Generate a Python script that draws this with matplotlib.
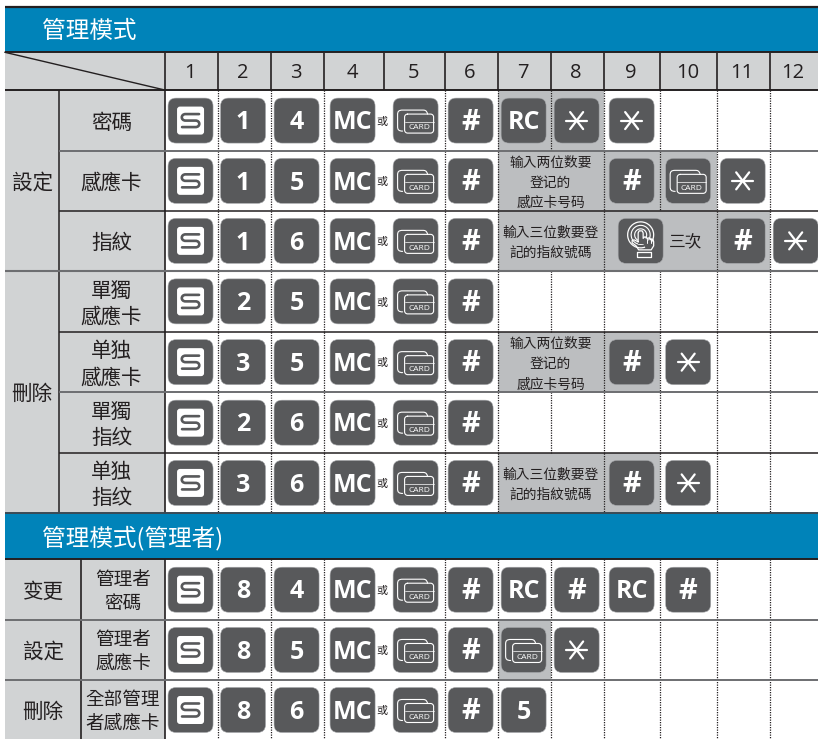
import matplotlib
matplotlib.use("Agg")
import matplotlib.pyplot as plt
from matplotlib.patches import FancyBboxPatch, Rectangle, PathPatch, Arc
from matplotlib.path import Path

CJK = ['Noto Sans CJK TC', 'DejaVu Sans']
LATIN = ['Open Sans', 'DejaVu Sans']

# table contents
col_labels = ['1', '2', '3', '4', '5', '6', '7', '8', '9', '10', '11', '12']
titles = ['管理模式', '管理模式(管理者)']

group_labels = ['設定', '刪除']
row_labels = ['密碼', '感應卡', '指紋', '單獨\n感應卡', '单独\n感應卡', '單獨\n指纹', '单独\n指纹']
keys = [
    ['S', '1', '4', 'MC', 'CARD', '#', 'RC', '*', '*', None, None, None],
    ['S', '1', '5', 'MC', 'CARD', '#', None, None, '#', 'CARD', '*', None],
    ['S', '1', '6', 'MC', 'CARD', '#', None, None, None, None, '#', '*'],
    ['S', '2', '5', 'MC', 'CARD', '#', None, None, None, None, None, None],
    ['S', '3', '5', 'MC', 'CARD', '#', None, None, '#', '*', None, None],
    ['S', '2', '6', 'MC', 'CARD', '#', None, None, None, None, None, None],
    ['S', '3', '6', 'MC', 'CARD', '#', None, None, '#', '*', None, None],
]
shaded = [(6, 7), (6, 9), (6, 10), None, (6, 8), None, (6, 8)]
notes = [None, '输入两位数要\n登记的\n感应卡号码', '輸入三位數要登\n記的指紋號碼', None,
         '输入两位数要\n登记的\n感应卡号码', None, '輸入三位數要登\n記的指紋號碼']

admin_groups = ['变更', '設定', '刪除']
admin_labels = ['管理者\n密碼', '管理者\n感應卡', '全部管理\n者感應卡']
admin_keys = [
    ['S', '8', '4', 'MC', 'CARD', '#', 'RC', '#', 'RC', '#', None, None],
    ['S', '8', '5', 'MC', 'CARD', '#', 'CARD', '*', None, None, None, None],
    ['S', '8', '6', 'MC', 'CARD', '#', '5', None, None, None, None, None],
]
admin_shaded = [None, (6, 6), None]

or_text = '或'
times_text = '三次'

# colours
BLUE = '#0083b9'
DARK = '#58595b'
LABEL_BG = '#d1d3d4'
SHADE = '#bcbec0'
INK = '#231f20'
RULE = '#6d6e71'

# page layout, pixels
col_edges = [165, 217.5, 270.5, 323.5, 384, 444.5, 497.5, 550.5, 603.5, 660, 716.5, 769.5, 818]
key_x = [190.5, 243, 296.5, 352.5, 415.5, 470.5, 523.5, 576.5, 631.5, 688, 742.5, 795.5]
row_edges = [90.5, 151, 211, 271, 332, 392.5, 453, 513]
admin_edges = [559.5, 620, 680, 740]
LEFT, RIGHT = 5, 818
KEY = 45
CJK_DY = 2

fig = plt.figure(figsize=(8.182, 7.392), dpi=100)
ax = fig.add_axes([0, 0, 1, 1])
ax.set_xlim(0, 818)
ax.set_ylim(739, 0)
ax.axis('off')


def box(x0, y0, x1, y1, color, z=1):
    ax.add_patch(Rectangle((x0, y0), x1 - x0, y1 - y0, fc=color, ec='none', zorder=z))


def hline(y, x0=LEFT, x1=RIGHT, color=INK, lw=1.2, z=4):
    ax.plot([x0, x1], [y, y], color=color, lw=lw, solid_capstyle='butt', zorder=z)


def vline(x, y0, y1, color=INK, lw=1.2, ls='-', z=3):
    ax.plot([x, x], [y0, y1], color=color, lw=lw, ls=ls, solid_capstyle='butt', zorder=z)


def lines_text(x, y, s, size, gap, color=INK):
    parts = s.split('\n')
    for i, part in enumerate(parts):
        yy = y + CJK_DY + (i - (len(parts) - 1) / 2) * gap
        ax.text(x, yy, part, ha='center', va='center', fontsize=size, color=color, family=CJK,
                weight='medium', zorder=6)


def stroke(verts, codes=None, lw=1.0, color='white', z=7):
    ax.add_patch(PathPatch(Path(verts, codes), fc='none', ec=color, lw=lw, capstyle='round',
                           joinstyle='round', zorder=z))


def round_outline(x0, y0, x1, y1, r):
    k = r * 0.45
    verts = [(x0 + r, y0), (x1 - r, y0), (x1 - k, y0), (x1, y0 + k), (x1, y0 + r),
             (x1, y1 - r), (x1, y1 - k), (x1 - k, y1), (x1 - r, y1),
             (x0 + r, y1), (x0 + k, y1), (x0, y1 - k), (x0, y1 - r),
             (x0, y0 + r), (x0, y0 + k), (x0 + k, y0), (x0 + r, y0)]
    codes = [Path.MOVETO, Path.LINETO, Path.CURVE4, Path.CURVE4, Path.CURVE4,
             Path.LINETO, Path.CURVE4, Path.CURVE4, Path.CURVE4,
             Path.LINETO, Path.CURVE4, Path.CURVE4, Path.CURVE4,
             Path.LINETO, Path.CURVE4, Path.CURVE4, Path.CURVE4]
    return verts, codes


def draw_s(cx, cy):
    ax.add_patch(FancyBboxPatch((cx - 13.5, cy - 14), 27, 28, boxstyle='round,pad=0,rounding_size=3',
                                fc='white', ec='none', zorder=6))
    verts = [(cx + 8.5, cy - 6.5), (cx - 5, cy - 6.5), (cx - 10, cy - 6.5), (cx - 10, cy), (cx - 5, cy),
             (cx + 5, cy), (cx + 10, cy), (cx + 10, cy + 6.5), (cx + 5, cy + 6.5), (cx - 8.5, cy + 6.5)]
    codes = [Path.MOVETO, Path.LINETO, Path.CURVE4, Path.CURVE4, Path.CURVE4,
             Path.LINETO, Path.CURVE4, Path.CURVE4, Path.CURVE4, Path.LINETO]
    stroke(verts, codes, lw=1.9, color=DARK)


def draw_star(cx, cy):
    stroke([(cx - 10.5, cy), (cx + 10.5, cy)], lw=1.6)
    stroke([(cx - 6.5, cy - 8.5), (cx + 6.5, cy + 8.5)], lw=1.6)
    stroke([(cx + 6.5, cy - 8.5), (cx - 6.5, cy + 8.5)], lw=1.6)


def draw_card(cx, cy):
    # card behind
    verts = [(cx + 12, cy - 6.5), (cx + 11, cy - 10.5), (cx + 9, cy - 10.5), (cx + 7, cy - 10.5),
             (cx - 13, cy - 10.5), (cx - 17, cy - 10.5), (cx - 18, cy - 9), (cx - 18, cy - 6),
             (cx - 18, cy + 6), (cx - 18, cy + 9), (cx - 17, cy + 10.5), (cx - 13, cy + 10.5)]
    codes = [Path.MOVETO, Path.CURVE4, Path.CURVE4, Path.CURVE4,
             Path.LINETO, Path.CURVE4, Path.CURVE4, Path.CURVE4,
             Path.LINETO, Path.CURVE4, Path.CURVE4, Path.CURVE4]
    stroke(verts, codes, lw=0.8)
    # card in front
    v, c = round_outline(cx - 11, cy - 6.5, cx + 18, cy + 12.5, 3)
    stroke(v, c, lw=0.8)
    stroke([(cx - 11, cy + 1), (cx + 18, cy + 1)], lw=0.5)
    ax.text(cx + 3.5, cy + 7.2, 'CARD', ha='center', va='center', fontsize=6, color='white',
            family=LATIN, zorder=7)


def draw_finger(cx, cy):
    ox, oy = cx, cy - 6
    for r, lw in [(13, 0.9), (9.5, 0.8), (6, 0.8)]:
        ax.add_patch(Arc((ox, oy), 2 * r, 2 * r, theta1=70, theta2=395, ec='white', lw=lw, zorder=7))
    ax.add_patch(Rectangle((cx - 3, cy - 9), 7, 12, fc=DARK, ec='none', zorder=7.5))
    hand = [(cx - 2.5, cy + 1), (cx - 2.5, cy - 8), (cx - 1.5, cy - 10), (cx + 1.5, cy - 10), (cx + 2.5, cy - 8),
            (cx + 2.5, cy - 2.5), (cx + 4, cy - 4), (cx + 6, cy - 3.5), (cx + 6.5, cy - 2),
            (cx + 8, cy - 3), (cx + 9.5, cy - 2.5), (cx + 10, cy - 1),
            (cx + 11, cy - 2), (cx + 12.5, cy - 1), (cx + 13, cy + 1), (cx + 13, cy + 5), (cx + 10.5, cy + 9),
            (cx - 2, cy + 9), (cx - 4.5, cy + 5), (cx - 8.5, cy + 2), (cx - 8.5, cy - 0.5), (cx - 6.5, cy - 1),
            (cx - 4.5, cy), (cx - 2.5, cy + 1)]
    stroke(hand, lw=0.9, z=8)
    stroke([(cx - 3.5, cy + 11.5), (cx + 10, cy + 11.5), (cx + 10, cy + 16), (cx - 3.5, cy + 16), (cx - 3.5, cy + 11.5)],
           lw=0.9, z=8)
    for dx in [6.5, 10]:
        stroke([(cx + dx, cy - 2), (cx + dx, cy + 2)], lw=0.7, z=8)


def draw_key(cx, cy, name):
    ax.add_patch(FancyBboxPatch((cx - KEY / 2, cy - KEY / 2), KEY, KEY, boxstyle='round,pad=0,rounding_size=8',
                                fc=DARK, ec='#a7a9ac', lw=0.4, zorder=5))
    if name == 'S':
        draw_s(cx, cy)
    elif name == '*':
        draw_star(cx, cy)
    elif name == 'CARD':
        draw_card(cx, cy)
    elif name == 'FINGER':
        draw_finger(cx, cy)
    elif name == '#':
        ax.text(cx, cy + 1.5, name, ha='center', va='center', fontsize=21, color='white',
                family=LATIN, weight='bold', zorder=7)
    else:
        ax.text(cx, cy + 2, name, ha='center', va='center', fontsize=18, color='white',
                family=LATIN, weight='bold', zorder=7)


def draw_row(row, top, bottom):
    cy = (top + bottom) / 2
    for i, name in enumerate(row):
        if name:
            draw_key(key_x[i], cy, name)
    ax.text(381.5, cy + 1, or_text, ha='center', va='center', fontsize=8, color=INK, family=CJK, zorder=6)


# blue title bars and grey label areas
box(LEFT, 8, RIGHT, 52, BLUE)
box(LEFT, 513, RIGHT, 559, BLUE)
box(LEFT, 53, RIGHT, 90.5, LABEL_BG)
box(LEFT, 90.5, 165, 513, LABEL_BG)
box(LEFT, 559.5, 165, 739, LABEL_BG)
hline(7, lw=1.6)

ax.text(42, 31.5, titles[0], ha='left', va='center', fontsize=17, color='white', family=CJK, zorder=6)
ax.text(42, 538, titles[1], ha='left', va='center', fontsize=17, color='white', family=CJK, zorder=6)

# column header
for i, label in enumerate(col_labels):
    ax.text((col_edges[i] + col_edges[i + 1]) / 2 - 1, 73, label, ha='center', va='center', fontsize=14.5,
            color=INK, family=LATIN, zorder=6)
for x in col_edges[:-1]:
    vline(x, 53, 90.5)
ax.plot([LEFT, 164], [52.5, 90], color=INK, lw=1.0, zorder=3)

# shaded cells
for i, span in enumerate(shaded):
    if span:
        box(col_edges[span[0]], row_edges[i], col_edges[span[1] + 1], row_edges[i + 1], SHADE)
for i, span in enumerate(admin_shaded):
    if span:
        box(col_edges[span[0]], admin_edges[i], col_edges[span[1] + 1], admin_edges[i + 1], SHADE)

# dotted column rules, none beside the "or" sign and none through merged cells
for i, x in enumerate(col_edges[1:-1]):
    if i == 3:
        continue
    for r in range(len(keys)):
        if x == 550.5 and notes[r]:
            continue
        if x == 660 and r == 2:
            continue
        vline(x, row_edges[r], row_edges[r + 1], ls=(0, (1, 1)), lw=0.9)
    vline(x, 559.5, 739, ls=(0, (1, 1)), lw=0.9)

# solid rules
vline(58.5, 90.5, 513, lw=1.1)
vline(165, 90.5, 513, color=INK)
vline(165, 559.5, 739, color=INK)
vline(81, 559.5, 739)
hline(52.5, lw=1.4)
hline(90.5, lw=1.4)
hline(151, x0=58.5, color=RULE, lw=1.4)
hline(211, x0=58.5, lw=1.1)
hline(271, color=RULE, lw=1.5)
hline(332, x0=58.5, lw=1.1)
hline(392.5, x0=58.5, color=RULE, lw=1.4)
hline(453, x0=58.5, lw=1.1)
hline(513, lw=1.4, color='#3a4a55')
hline(559.5, lw=1.4)
hline(620, color=RULE, lw=1.4)
hline(680, color=RULE, lw=1.4)

# first table rows
lines_text(32, 181, group_labels[0], 14.8, 26)
lines_text(32, 392, group_labels[1], 14.8, 26)
for i, row in enumerate(keys):
    top, bottom = row_edges[i], row_edges[i + 1]
    lines_text(111.5, (top + bottom) / 2, row_labels[i], 14.8, 26)
    draw_row(row, top, bottom)
    if notes[i]:
        lines_text(550.5, (top + bottom) / 2, notes[i], 9.9, 20)

# fingerprint key spans columns 9 and 10 in its row
fy = (row_edges[2] + row_edges[3]) / 2
draw_key(640.5, fy, 'FINGER')
ax.text(685.5, fy + 1.5, times_text, ha='center', va='center', fontsize=12, color=INK, family=CJK, zorder=6)

# second table rows
for i, row in enumerate(admin_keys):
    top, bottom = admin_edges[i], admin_edges[i + 1]
    lines_text(43, (top + bottom) / 2 - 0.5, admin_groups[i], 14.8, 26)
    lines_text(123, (top + bottom) / 2, admin_labels[i], 13.4, 24)
    draw_row(row, top, bottom)

fig.savefig('out.png', dpi=100, facecolor='white')
